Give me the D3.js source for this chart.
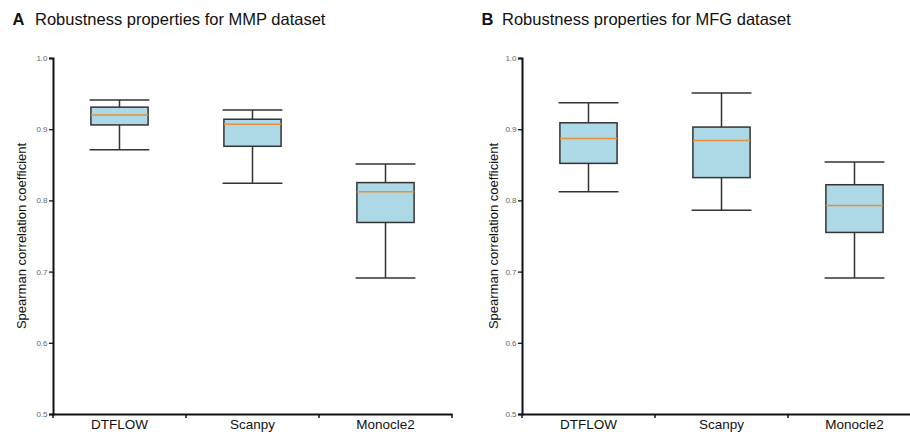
<!DOCTYPE html>
<html><head><meta charset="utf-8">
<script src="https://cdn.jsdelivr.net/npm/d3@7"></script>
<style>body{margin:0;background:#fff}svg{display:block;font-family:"Liberation Sans",Arial,sans-serif}</style>
</head><body><svg id="c" width="910" height="432"></svg>
<script>
const categories = ["DTFLOW", "Scanpy", "Monocle2"];
const yTicks = [0.5, 0.6, 0.7, 0.8, 0.9, 1.0];
// [whiskerLow, q1, median, q3, whiskerHigh]
const mmpStats = [
  [0.871, 0.906, 0.920, 0.931, 0.941],
  [0.824, 0.876, 0.907, 0.914, 0.927],
  [0.691, 0.769, 0.812, 0.825, 0.851]
];
const mfgStats = [
  [0.812, 0.852, 0.887, 0.909, 0.937],
  [0.786, 0.832, 0.884, 0.903, 0.951],
  [0.691, 0.755, 0.793, 0.822, 0.854]
];
const panels = [
  {letter: "A", title: "Robustness properties for MMP dataset", stats: mmpStats, x0: 53, x1: 452, lx: 12.5, tx: 35, ylab: 22},
  {letter: "B", title: "Robustness properties for MFG dataset", stats: mfgStats, x0: 522, x1: 921, lx: 481.5, tx: 502, ylab: 494}
];

const svg = d3.select("#c");
const y = d3.scaleLinear().domain([0.5, 1.0]).range([414, 58]);

panels.forEach(p => {
  const g = svg.append("g");
  const x = d3.scaleBand().domain(categories).range([p.x0, p.x1]).padding(0);
  const bw = x.bandwidth() * 0.43;
  const cw = x.bandwidth() * 0.225;

  // title
  g.append("text").attr("x", p.lx).attr("y", 25).attr("font-size", 16.5).attr("font-weight", "bold").attr("fill", "#111").text(p.letter);
  g.append("text").attr("x", p.tx).attr("y", 25).attr("font-size", 16.5).attr("fill", "#111").text(p.title);

  // y axis
  const ya = g.append("g").attr("transform", `translate(${p.x0},0)`)
    .call(d3.axisLeft(y).tickValues(yTicks).tickFormat(d3.format(".1f")).tickSize(4).tickPadding(1.5));
  ya.select(".domain").attr("stroke", "#111").attr("stroke-width", 2);
  ya.selectAll(".tick line").attr("stroke", "#111").attr("stroke-width", 1.3);
  ya.selectAll(".tick text").attr("font-size", 8).attr("fill", "#666").attr("font-family", "Liberation Sans, Arial, sans-serif");

  g.append("text").attr("transform", `translate(${p.ylab + 4},236) rotate(-90)`)
    .attr("text-anchor", "middle").attr("font-size", 13).attr("fill", "#111").text("Spearman correlation coefficient");

  // x axis
  const xa = g.append("g").attr("transform", `translate(0,414)`)
    .call(d3.axisBottom(x).tickSize(0).tickSizeOuter(0).tickPadding(5.5));
  xa.select(".domain").attr("stroke", "#111").attr("stroke-width", 2);
  xa.selectAll(".tick text").attr("font-size", 13.5).attr("fill", "#111").attr("font-family", "Liberation Sans, Arial, sans-serif");
  g.selectAll(".bt").data(categories.map(c => x(c)).concat([p.x1])).enter().append("line")
    .attr("x1", d => d).attr("x2", d => d).attr("y1", 414).attr("y2", 418).attr("stroke", "#111").attr("stroke-width", 1.5);

  // boxes
  categories.forEach((c, i) => {
    const s = p.stats[i];
    const cx = x(c) + x.bandwidth() / 2;
    const bg = g.append("g");
    const st = "#333";
    bg.append("line").attr("x1", cx).attr("x2", cx).attr("y1", y(s[0])).attr("y2", y(s[1])).attr("stroke", st).attr("stroke-width", 1.5);
    bg.append("line").attr("x1", cx).attr("x2", cx).attr("y1", y(s[3])).attr("y2", y(s[4])).attr("stroke", st).attr("stroke-width", 1.5);
    bg.append("line").attr("x1", cx - cw).attr("x2", cx + cw).attr("y1", y(s[0])).attr("y2", y(s[0])).attr("stroke", st).attr("stroke-width", 1.5);
    bg.append("line").attr("x1", cx - cw).attr("x2", cx + cw).attr("y1", y(s[4])).attr("y2", y(s[4])).attr("stroke", st).attr("stroke-width", 1.5);
    bg.append("rect").attr("x", cx - bw / 2).attr("width", bw).attr("y", y(s[3])).attr("height", y(s[1]) - y(s[3]))
      .attr("fill", "#add8e6").attr("stroke", st).attr("stroke-width", 1.5);
    bg.append("line").attr("x1", cx - bw / 2).attr("x2", cx + bw / 2).attr("y1", y(s[2])).attr("y2", y(s[2])).attr("stroke", "#e8913a").attr("stroke-width", 1.5);
  });
});
</script></body></html>
